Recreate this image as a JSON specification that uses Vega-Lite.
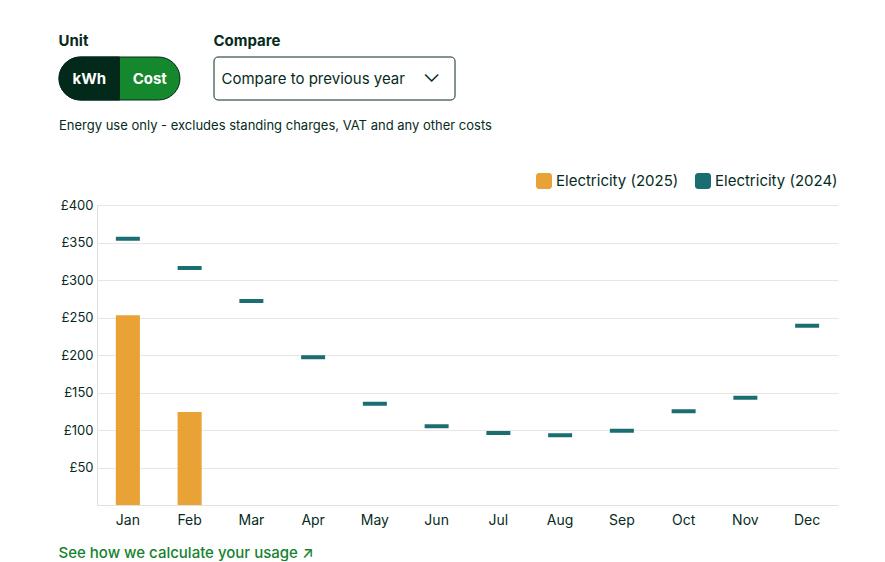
{
  "$schema": "https://vega.github.io/schema/vega-lite/v6.json",
  "background": "white",
  "padding": {"left": 58, "top": 33, "right": 40, "bottom": 0},
  "config": {
    "font": "Inter",
    "view": {"stroke": null},
    "title": {"color": "#062B1D"},
    "legend": {"layout": {"top": {"anchor": "end"}}}
  },
  "datasets": {
    "usage": [
      {"month": "Jan", "series": "Electricity (2025)", "value": 253},
      {"month": "Feb", "series": "Electricity (2025)", "value": 124},
      {"month": "Jan", "series": "Electricity (2024)", "value": 355},
      {"month": "Feb", "series": "Electricity (2024)", "value": 316},
      {"month": "Mar", "series": "Electricity (2024)", "value": 272},
      {"month": "Apr", "series": "Electricity (2024)", "value": 197},
      {"month": "May", "series": "Electricity (2024)", "value": 135},
      {"month": "Jun", "series": "Electricity (2024)", "value": 105},
      {"month": "Jul", "series": "Electricity (2024)", "value": 96},
      {"month": "Aug", "series": "Electricity (2024)", "value": 93},
      {"month": "Sep", "series": "Electricity (2024)", "value": 99},
      {"month": "Oct", "series": "Electricity (2024)", "value": 125},
      {"month": "Nov", "series": "Electricity (2024)", "value": 143},
      {"month": "Dec", "series": "Electricity (2024)", "value": 239}
    ]
  },
  "title": {
    "text": "See how we calculate your usage ↗",
    "orient": "bottom",
    "anchor": "start",
    "frame": "bounds",
    "fontSize": 15,
    "fontWeight": 500,
    "color": "#15822E",
    "offset": 19
  },
  "spacing": 19,
  "resolve": {"scale": {"color": "independent"}, "legend": {"color": "independent"}},
  "vconcat": [
    {
      "spacing": 32,
      "hconcat": [
        {
          "title": {"text": "Unit", "anchor": "start", "frame": "bounds", "fontSize": 15, "fontWeight": "bold", "offset": 8, "color": "#062B1D"},
          "width": 121,
          "height": 43,
          "data": {"values": [{"option": "kWh"}, {"option": "Cost"}]},
          "layer": [
            {
              "transform": [{"filter": "datum.option == 'Cost'"}],
              "mark": {"type": "rect", "cornerRadius": 21.5, "fill": "#15882E", "stroke": "#062B1D", "strokeWidth": 1},
              "encoding": {}
            },
            {
              "transform": [{"filter": "datum.option == 'kWh'"}],
              "mark": {"type": "rect", "fill": "#03291A", "stroke": "#03291A", "strokeWidth": 1, "cornerRadiusTopLeft": 21.5, "cornerRadiusBottomLeft": 21.5},
              "encoding": {
                "x": {"field": "option", "type": "nominal", "sort": ["kWh", "Cost"], "scale": {"domain": ["kWh", "Cost"], "paddingInner": 0, "paddingOuter": 0}, "axis": null}
              }
            },
            {
              "mark": {"type": "text", "color": "white", "fontSize": 15, "fontWeight": "bold"},
              "encoding": {
                "x": {"field": "option", "type": "nominal", "sort": ["kWh", "Cost"], "scale": {"domain": ["kWh", "Cost"], "paddingInner": 0, "paddingOuter": 0}, "axis": null},
                "text": {"field": "option"}
              }
            }
          ]
        },
        {
          "title": {"text": "Compare", "anchor": "start", "frame": "bounds", "fontSize": 15, "fontWeight": "bold", "offset": 8, "color": "#062B1D"},
          "width": 241,
          "height": 43,
          "data": {"values": [{"label": "Compare to previous year"}]},
          "layer": [
            {
              "mark": {"type": "rect", "fill": "white", "stroke": "#062B1D", "strokeWidth": 1, "cornerRadius": 4},
              "encoding": {}
            },
            {
              "mark": {"type": "text", "align": "left", "dx": -113, "fontSize": 15, "color": "#062B1D"},
              "encoding": {"text": {"field": "label"}}
            },
            {
              "mark": {"type": "text", "dx": 97, "dy": -4, "fontSize": 24, "fontWeight": 300, "color": "#062B1D", "text": "⌄"},
              "encoding": {}
            }
          ]
        }
      ]
    },
    {
      "title": {
        "text": "Energy use only - excludes standing charges, VAT and any other costs",
        "anchor": "start",
        "frame": "bounds",
        "fontSize": 13,
        "fontWeight": "normal",
        "offset": 40,
        "color": "#062B1D"
      },
      "spacing": 4,
      "hconcat": [
        {
          "width": 34,
          "height": 300,
          "data": {"name": "usage"},
          "mark": {"type": "point", "opacity": 0},
          "encoding": {
            "y": {
              "field": "value",
              "type": "quantitative",
              "scale": {"domain": [0, 400], "nice": false},
              "axis": {
                "orient": "right",
                "title": null,
                "values": [0, 50, 100, 150, 200, 250, 300, 350, 400],
                "labelExpr": "datum.value == 0 ? '' : '£' + datum.value",
                "ticks": false,
                "domain": false,
                "grid": false,
                "labelAlign": "right",
                "labelPadding": 0,
                "labelFontSize": 13,
                "labelColor": "#062B1D"
              }
            }
          }
        },
        {
          "width": 741,
          "height": 300,
          "data": {"name": "usage"},
          "encoding": {
            "x": {
              "field": "month",
              "type": "ordinal",
              "sort": ["Jan", "Feb", "Mar", "Apr", "May", "Jun", "Jul", "Aug", "Sep", "Oct", "Nov", "Dec"],
              "scale": {"paddingInner": 0.61, "paddingOuter": 0.305},
              "axis": {"title": null, "labelAngle": 0, "ticks": false, "grid": false, "domainColor": "#E3E1DC", "labelFontSize": 14, "labelColor": "#062B1D", "labelPadding": 8}
            },
            "y": {
              "field": "value",
              "type": "quantitative",
              "scale": {"domain": [0, 400], "nice": false},
              "axis": {
                "title": null,
                "values": [0, 50, 100, 150, 200, 250, 300, 350, 400],
                "labels": false,
                "ticks": false,
                "domainColor": "#E3E1DC",
                "gridColor": "#E8E6E1"
              }
            },
            "color": {
              "field": "series",
              "type": "nominal",
              "scale": {"domain": ["Electricity (2025)", "Electricity (2024)"], "range": ["#E8A235", "#1A6E72"]},
              "legend": {
                "title": null,
                "orient": "top",
                "direction": "horizontal",
                "symbolType": "M -0.625 -1 H 0.625 A 0.375 0.375 0 0 1 1 -0.625 V 0.625 A 0.375 0.375 0 0 1 0.625 1 H -0.625 A 0.375 0.375 0 0 1 -1 0.625 V -0.625 A 0.375 0.375 0 0 1 -0.625 -1 Z",
                "symbolSize": 256,
                "symbolStrokeWidth": 0,
                "symbolOpacity": 1,
                "labelFontSize": 15,
                "labelColor": "#062B1D",
                "labelOffset": 4,
                "columnPadding": 16,
                "offset": 10
              }
            }
          },
          "layer": [
            {
              "transform": [{"filter": "datum.series == 'Electricity (2025)'"}],
              "mark": {"type": "bar", "opacity": 1}
            },
            {
              "transform": [{"filter": "datum.series == 'Electricity (2024)'"}],
              "mark": {"type": "tick", "size": 24, "thickness": 4, "opacity": 1}
            }
          ]
        }
      ]
    }
  ]
}
